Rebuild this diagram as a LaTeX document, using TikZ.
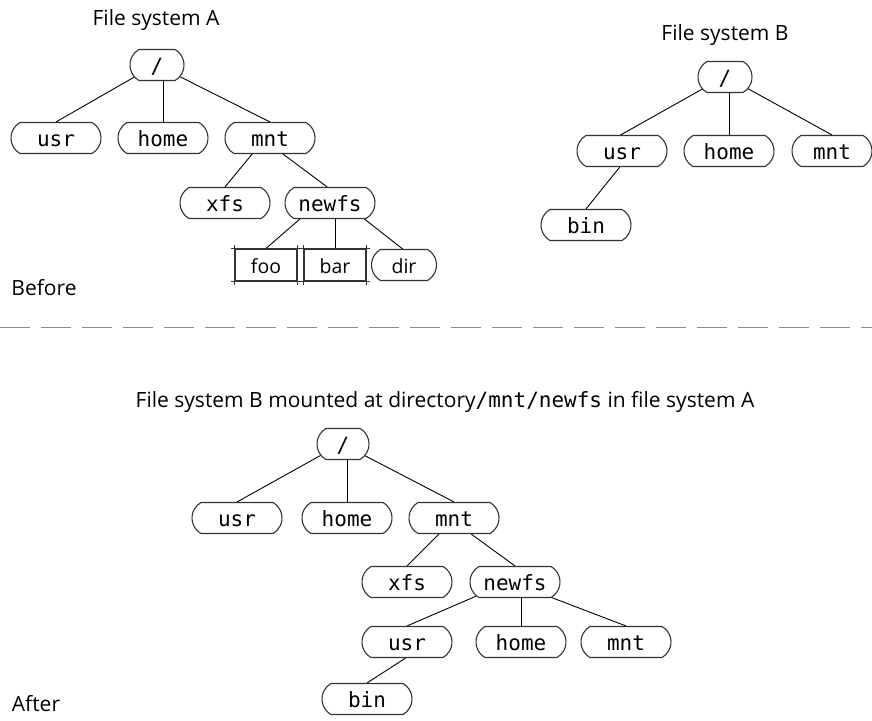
\documentclass[tikz,border=0pt]{standalone}
\usepackage{fontspec}
\setmainfont{Open Sans}
\setmonofont{DejaVu Sans Mono}
\usetikzlibrary{shapes.misc}
\tikzset{
  dirnode/.style={draw=black!80, line width=1.1pt, rounded rectangle,
    rounded rectangle arc length=120, minimum width=90pt, minimum height=31pt,
    inner sep=0pt, text height=16pt, text depth=0pt,
    font=\fontsize{21}{24}\selectfont\ttfamily},
  filenode/.style={draw=black!80, line width=1.1pt, rectangle,
    minimum width=62pt, minimum height=32pt, inner sep=0pt,
    text height=16pt, text depth=0pt, font=\fontsize{19.5}{23}\selectfont},
  link/.style={line width=0.9pt},
  caption/.style={inner sep=0pt, font=\fontsize{21}{25}\selectfont},
}
\begin{document}
\begin{tikzpicture}[x=1pt, y=-1pt]
  \useasboundingbox (0,0) rectangle (872,720);

  % file system A
  \node[caption] (titleA) at (156,20) {File system A};
  \node[dirnode, minimum width=54pt] (rootA) at (157,65) {/};
  \node[dirnode] (usrA) at (56,138) {usr};
  \node[dirnode] (homeA) at (163,138) {home};
  \node[dirnode] (mntA) at (270,138) {mnt};
  \node[dirnode] (xfsA) at (225,203) {xfs};
  \node[dirnode] (newfsA) at (330,203) {newfs};
  \node[filenode] (foo) at (266,265) {foo};
  \node[filenode] (bar) at (335,265) {bar};
  \node[dirnode, minimum width=65pt, font=\fontsize{19.5}{23}\selectfont] (dir) at (404,265) {dir};
  \foreach \n in {foo,bar} {
    \draw[black!80, line width=1.1pt, shorten <=-3pt, shorten >=-3pt] (\n.north west) -- (\n.north east);
    \draw[black!80, line width=1.1pt, shorten <=-3pt, shorten >=-3pt] (\n.south west) -- (\n.south east);
    \draw[black!80, line width=1.1pt, shorten <=-3pt, shorten >=-3pt] (\n.north west) -- (\n.south west);
    \draw[black!80, line width=1.1pt, shorten <=-3pt, shorten >=-3pt] (\n.north east) -- (\n.south east);
  }
  \foreach \a/\b in {rootA.208/usrA.north, rootA.333/mntA.north, mntA.222/xfsA.north,
                     mntA.309/newfsA.100, newfsA.208/foo.north, newfsA.335/dir.95}
    \draw[link] (\a) -- (\b);
  \draw[link] (homeA.north) -- (homeA.north |- rootA.south);
  \draw[link] (bar.north) -- (bar.north |- newfsA.south);
  \node[caption] (before) at (44,288) {Before};

  % file system B
  \node[caption] (titleB) at (725,35) {File system B};
  \node[dirnode, minimum width=54pt] (rootB) at (725,77) {/};
  \node[dirnode] (usrB) at (622,151) {usr};
  \node[dirnode] (homeB) at (729,151) {home};
  \node[dirnode, minimum width=80pt] (mntB) at (832,151) {mnt};
  \node[dirnode] (binB) at (586,225) {bin};
  \foreach \a/\b in {rootB.208/usrB.95, rootB.333/mntB.north, usrB.262/binB.north}
    \draw[link] (\a) -- (\b);
  \draw[link] (homeB.north) -- (homeB.north |- rootB.south);

  % divider
  \draw[black!45, line width=1pt, dash pattern=on 30pt off 11pt] (0,327) -- (872,327);

  % after mounting
  \node[caption] (titleC) at (445,402) {File system B mounted at directory\texttt{/mnt/newfs} in file system A};
  \node[dirnode, minimum width=52pt] (rootC) at (343,444) {/};
  \node[dirnode] (usrC) at (237,518) {usr};
  \node[dirnode] (homeC) at (347,518) {home};
  \node[dirnode] (mntC) at (454,518) {mnt};
  \node[dirnode] (xfsC) at (407,582) {xfs};
  \node[dirnode] (newfsC) at (515,582) {newfs};
  \node[dirnode] (usrD) at (407,642) {usr};
  \node[dirnode] (homeD) at (521,642) {home};
  \node[dirnode] (mntD) at (626,642) {mnt};
  \node[dirnode] (binD) at (367,699) {bin};
  \foreach \a/\b in {rootC.207/usrC.north, rootC.332/mntC.north, mntC.227/xfsC.north,
                     mntC.317/newfsC.north, newfsC.200/usrD.north, newfsC.337/mntD.north,
                     usrD.265/binD.north}
    \draw[link] (\a) -- (\b);
  \draw[link] (homeC.north) -- (homeC.north |- rootC.south);
  \draw[link] (homeD.north) -- (homeD.north |- newfsC.south);
  \node[caption] (after) at (36,704) {After};
\end{tikzpicture}
\end{document}
